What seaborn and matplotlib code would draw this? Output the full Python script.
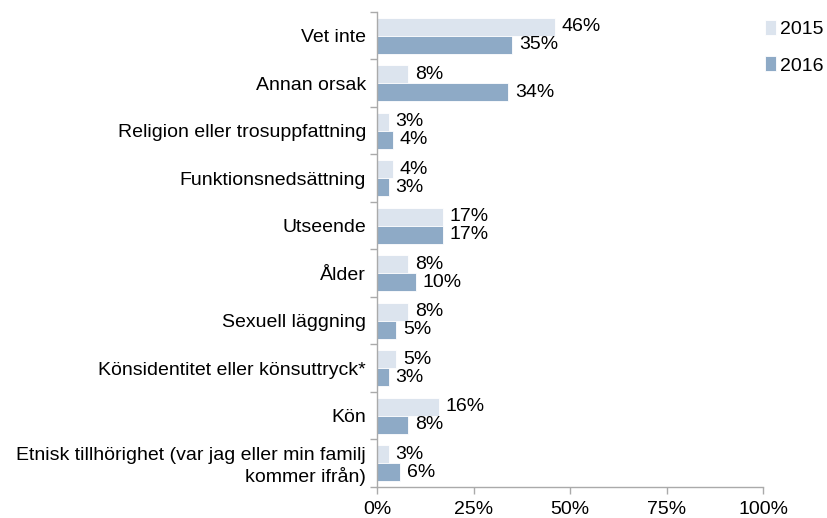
import matplotlib
matplotlib.use("Agg")
import matplotlib.pyplot as plt
import numpy as np
import pandas as pd
import seaborn as sns

categories = [
    "Vet inte",
    "Annan orsak",
    "Religion eller trosuppfattning",
    "Funktionsnedsättning",
    "Utseende",
    "Ålder",
    "Sexuell läggning",
    "Könsidentitet eller könsuttryck*",
    "Kön",
    "Etnisk tillhörighet (var jag eller min familj\nkommer ifrån)",
]
share_2015 = [46, 8, 3, 4, 17, 8, 8, 5, 16, 3]
share_2016 = [35, 34, 4, 3, 17, 10, 5, 3, 8, 6]
years = ["2015", "2016"]
x_ticks = [0, 25, 50, 75, 100]

df = pd.DataFrame({
    "kategori": categories * 2,
    "andel": share_2015 + share_2016,
    "år": [years[0]] * len(categories) + [years[1]] * len(categories),
})

sns.set_style("white")
plt.rcParams["font.family"] = ["Liberation Sans", "DejaVu Sans"]
plt.rcParams["text.color"] = "black"
plt.rcParams["xtick.labelcolor"] = "black"
plt.rcParams["ytick.labelcolor"] = "black"
fs = 14

fig = plt.figure(figsize=(8.27, 5.18), dpi=100)
ax = fig.add_axes([0.456, 0.060, 0.467, 0.917])

sns.barplot(data=df, y="kategori", x="andel", hue="år", orient="h",
            palette=["#dce4ee", "#8eaac6"], saturation=1, width=0.76, ax=ax,
            edgecolor="white", linewidth=0.6)

for cont in ax.containers:
    ax.bar_label(cont, labels=[f"{int(round(v))}%" for v in cont.datavalues],
                 padding=5, fontsize=fs, color="black")

ax.set_xlim(0, 100)
ax.set_ylim(len(categories) - 0.5, -0.5)
ax.set_xticks(x_ticks)
ax.set_xticklabels([f"{t}%" for t in x_ticks], fontsize=fs)
ax.set_yticks(range(len(categories)))
ax.set_yticklabels(categories, fontsize=fs)
ax.set_yticks(np.arange(-0.5, len(categories), 1), minor=True)
ax.tick_params(axis="y", which="major", length=0, pad=8, labelcolor="black")
ax.tick_params(axis="y", which="minor", length=5, color="#aaaaaa", width=1, direction="out", left=True)
ax.tick_params(axis="x", length=5, color="#aaaaaa", width=1, direction="out", bottom=True, pad=5,
               labelcolor="black")
ax.set_xlabel("")
ax.set_ylabel("")
for s in ["top", "right"]:
    ax.spines[s].set_visible(False)
for s in ["left", "bottom"]:
    ax.spines[s].set_color("#aaaaaa")
    ax.spines[s].set_linewidth(1)

leg = ax.legend(loc="upper left", bbox_to_anchor=(0.985, 1.0), frameon=False,
                fontsize=fs, handlelength=0.55, handleheight=0.8,
                handletextpad=0.2, labelspacing=0.95, borderaxespad=0.0)
for t in leg.get_texts():
    t.set_color("black")

fig.savefig("out.png", dpi=100)
